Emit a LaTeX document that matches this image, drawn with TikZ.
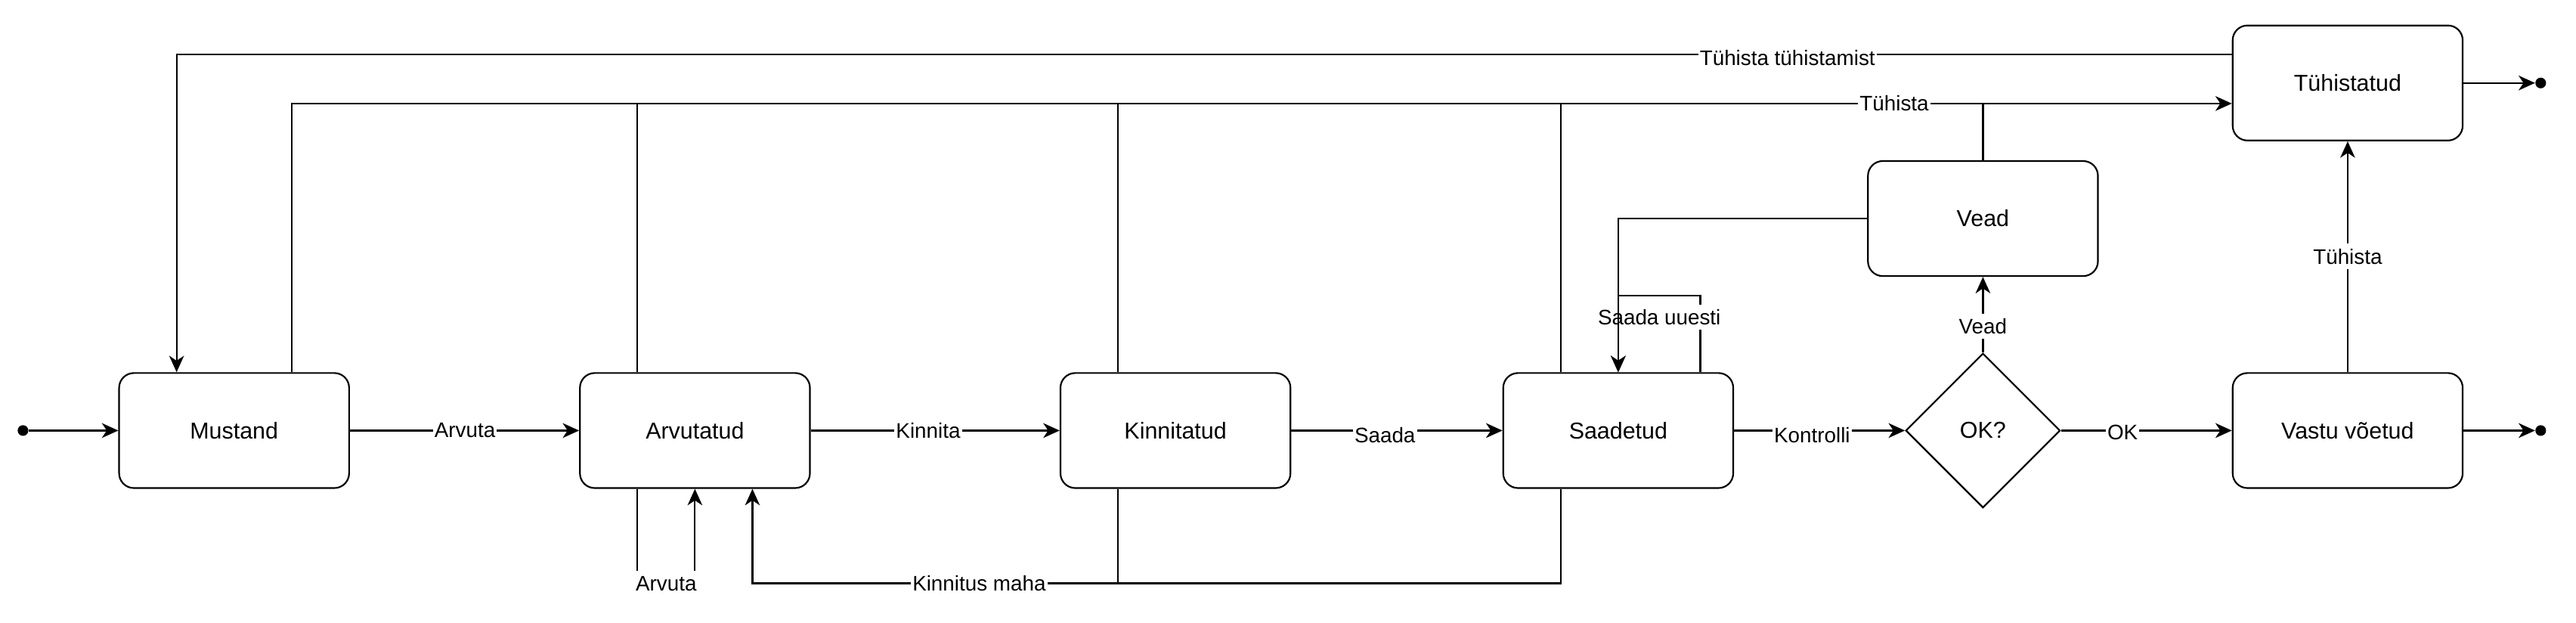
\documentclass[tikz,border=0pt]{standalone}
\usepackage{fontspec}
\setmainfont{Liberation Sans}
\usetikzlibrary{arrows.meta,shapes.geometric}
\begin{document}
\begin{tikzpicture}[x=1pt,y=-1pt,
  state/.style={draw, rounded corners=9pt, minimum width=140pt, minimum height=70pt, inner sep=0pt, font=\fontsize{14}{16}\selectfont, line width=1pt},
  dec/.style={draw, diamond, minimum width=94pt, minimum height=94pt, inner sep=0pt, font=\fontsize{14}{16}\selectfont, line width=1pt},
  lbl/.style={fill=white, inner xsep=1pt, inner ysep=3pt, font=\fontsize{12.8}{14}\selectfont},
  dot/.style={circle, fill, inner sep=0pt, minimum size=6.5pt},
  conn/.style={line width=1pt, -{Stealth[length=10pt,width=9pt,inset=3pt]}},
  ln/.style={line width=1pt},
]
\useasboundingbox (0,0) rectangle (1568,379);

% nodes
\node[dot] (start) at (14,262) {};
\node[state] (mus) at (142.5,262) {Mustand};
\node[state] (arv) at (423,262) {Arvutatud};
\node[state] (kin) at (715.5,262) {Kinnitatud};
\node[state] (sad) at (985,262) {Saadetud};
\node[dec] (ok) at (1207,262) {OK?};
\node[state] (vas) at (1429,262) {Vastu võetud};
\node[state] (tyh) at (1429,50.5) {Tühistatud};
\node[state] (vea) at (1207,133) {Vead};
\node[dot] (end1) at (1546.5,262) {};
\node[dot] (end2) at (1546.5,50.5) {};
\coordinate (ty) at (0,63);
\coordinate (tt) at (0,33);
\coordinate (by) at (0,355);
\coordinate (ly) at (0,180);

% main flow
\draw[conn] (start) -- (mus);
\draw[conn] (mus) -- (arv);
\draw[conn] (arv) -- (kin);
\draw[conn] (kin) -- (sad);
\draw[conn] (sad) -- (ok.west);
\draw[conn] (ok.east) -- (vas);
\draw[conn] (ok) -- (vea);
\draw[conn] (vas) -- (tyh);
\draw[conn] (vas) -- (end1);
\draw[conn] (tyh) -- (end2);

% Tühista (top bus)
\draw[conn] ([xshift=35pt]mus.north) -- ([xshift=35pt]mus.north |- ty) -- (tyh.west |- ty);
\draw[ln] ([xshift=-35pt]arv.north) -- ([xshift=-35pt]arv.north |- ty);
\draw[ln] ([xshift=-35pt]kin.north) -- ([xshift=-35pt]kin.north |- ty);
\draw[ln] ([xshift=-35pt]sad.north) -- ([xshift=-35pt]sad.north |- ty);
\draw[ln] (vea.north) -- (vea.north |- ty);

% Tühista tühistamist
\draw[conn] (tyh.west |- tt) -- ([xshift=-35pt]mus.north |- tt) -- ([xshift=-35pt]mus.north);

% Saada uuesti loop
\draw[conn] ([xshift=50pt]sad.north) -- ([xshift=50pt]sad.north |- ly) -- (sad.north |- ly) -- (sad.north);

% Arvuta loop
\draw[conn] ([xshift=-35pt]arv.south) -- ([xshift=-35pt]arv.south |- by) -- (arv.south |- by) -- (arv.south);

% Kinnitus maha
\draw[conn] ([xshift=-35pt]sad.south) -- ([xshift=-35pt]sad.south |- by) -- ([xshift=35pt]arv.south |- by) -- ([xshift=35pt]arv.south);
\draw[ln] ([xshift=-35pt]kin.south) -- ([xshift=-35pt]kin.south |- by);

% labels
\node[lbl] (l1) at (283,262) {Arvuta};
\node[lbl] (l2) at (565,262) {Kinnita};
\node[lbl] (l3) at (843,265) {Saada};
\node[lbl] (l4) at (1103,265) {Kontrolli};
\node[lbl] (l5) at (1292,263) {OK};
\node[lbl] (l6) at (1207,198.5) {Vead};
\node[lbl] (l7) at (1429,156) {Tühista};
\node[lbl] (l8) at (1153,63) {Tühista};
\node[lbl] (l9) at (1088,35) {Tühista tühistamist};
\node[lbl] (l10) at (1010,193) {Saada uuesti};
\node[lbl] (l11) at (405.5,355) {Arvuta};
\node[lbl] (l12) at (596,355) {Kinnitus maha};

% Vead -> Saadetud (drawn over the loop label)
\draw[conn] (vea.west) -- (sad.north |- vea.west) -- (sad.north);
\end{tikzpicture}
\end{document}
